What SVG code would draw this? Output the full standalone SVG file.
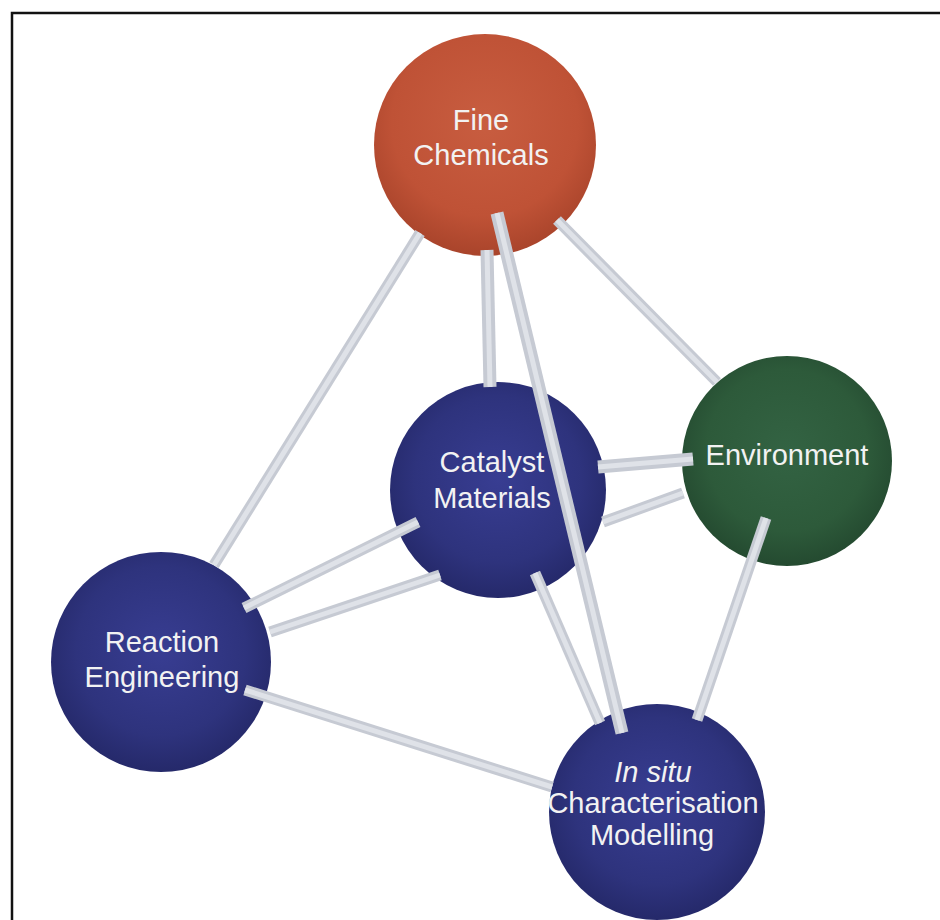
<svg xmlns="http://www.w3.org/2000/svg" width="940" height="920" viewBox="0 0 940 920">
<style>
.lbl{font-family:"Liberation Sans",Arial,sans-serif;font-size:29px;fill:#f2f2f2;text-anchor:middle}
.rod{stroke:#c6cad3;stroke-width:11;stroke-linecap:butt;fill:none}
.rodw{stroke:#c6cad3;stroke-width:13;stroke-linecap:butt;fill:none}
.hl{stroke:#dfe2e8;stroke-width:5;stroke-linecap:butt;fill:none}
.frame{stroke:#111;stroke-width:2.5;fill:none}
</style>
<defs>
<radialGradient id="gBlue" cx="50%" cy="45%" r="55%">
<stop offset="0" stop-color="#383d92"/>
<stop offset="0.7" stop-color="#2e337d"/>
<stop offset="1" stop-color="#25296a"/>
</radialGradient>
<radialGradient id="gOrange" cx="50%" cy="40%" r="60%">
<stop offset="0" stop-color="#c85d40"/>
<stop offset="0.7" stop-color="#bf5236"/>
<stop offset="1" stop-color="#a9442b"/>
</radialGradient>
<radialGradient id="gGreen" cx="50%" cy="45%" r="55%">
<stop offset="0" stop-color="#336343"/>
<stop offset="0.7" stop-color="#2d5a3a"/>
<stop offset="1" stop-color="#244a30"/>
</radialGradient>
</defs>
<rect width="940" height="920" fill="#ffffff"/>
<path class="frame" d="M12 920 V13 H940"/>

<g id="fine-chemicals">
<circle cx="485" cy="145" r="111" fill="url(#gOrange)"/>
<text class="lbl" x="481" y="130">Fine</text>
<text class="lbl" x="481" y="165">Chemicals</text>
</g>
<g id="catalyst-materials">
<circle cx="498" cy="490" r="108" fill="url(#gBlue)"/>
<text class="lbl" x="492" y="472">Catalyst</text>
<text class="lbl" x="492" y="508">Materials</text>
</g>
<g id="environment">
<circle cx="787" cy="461" r="105" fill="url(#gGreen)"/>
<text class="lbl" x="787" y="465">Environment</text>
</g>
<g id="reaction-engineering">
<circle cx="161" cy="662" r="110" fill="url(#gBlue)"/>
<text class="lbl" x="162" y="652">Reaction</text>
<text class="lbl" x="162" y="687">Engineering</text>
</g>
<g id="in-situ">
<circle cx="657" cy="812" r="108" fill="url(#gBlue)"/>
<text class="lbl" x="653" y="782" font-style="italic">In situ</text>
<text class="lbl" x="653" y="813">Characterisation</text>
<text class="lbl" x="652" y="845">Modelling</text>
</g>

<g id="connectors">
<line class="rod" x1="420" y1="233" x2="214" y2="565"/>
<line class="hl" x1="420" y1="233" x2="214" y2="565"/>
<line class="rodw" x1="487" y1="250" x2="490" y2="387"/>
<line class="hl" x1="487" y1="250" x2="490" y2="387"/>
<line class="rodw" x1="497" y1="213" x2="622" y2="733"/>
<line class="hl" x1="497" y1="213" x2="622" y2="733"/>
<line class="rod" x1="535" y1="573" x2="600" y2="723"/>
<line class="hl" x1="535" y1="573" x2="600" y2="723"/>
<line class="rod" x1="557" y1="220" x2="717" y2="382"/>
<line class="hl" x1="557" y1="220" x2="717" y2="382"/>
<line class="rodw" x1="598" y1="467" x2="693" y2="459"/>
<line class="hl" x1="598" y1="467" x2="693" y2="459"/>
<line class="rod" x1="603" y1="522" x2="683" y2="493"/>
<line class="hl" x1="603" y1="522" x2="683" y2="493"/>
<line class="rod" x1="766" y1="518" x2="697" y2="720"/>
<line class="hl" x1="766" y1="518" x2="697" y2="720"/>
<line class="rod" x1="418" y1="522" x2="244" y2="608"/>
<line class="hl" x1="418" y1="522" x2="244" y2="608"/>
<line class="rod" x1="440" y1="575" x2="270" y2="632"/>
<line class="hl" x1="440" y1="575" x2="270" y2="632"/>
<line class="rod" x1="245" y1="690" x2="552" y2="787"/>
<line class="hl" x1="245" y1="690" x2="552" y2="787"/>
</g>
</svg>
